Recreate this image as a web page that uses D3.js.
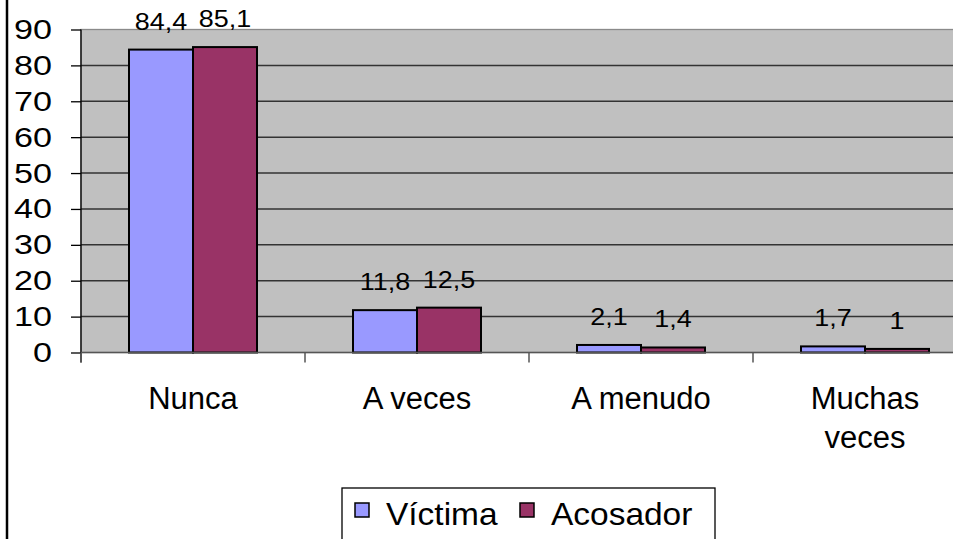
<!DOCTYPE html>
<head>
  <meta charset="utf-8">
  <script src="https://d3js.org/d3.v7.min.js"></script>
  <style>
    body { margin:0; background:#fff; }
    svg { display:block; font-family: Arial, "Liberation Sans", sans-serif; }
  </style>
</head>
<body>
<div id="chart"></div>
<script>
  // data
  var categories = ["Nunca", "A veces", "A menudo", "Muchas veces"];
  var series = ["Víctima", "Acosador"];
  var victima  = [84.4, 11.8, 2.1, 1.7];
  var acosador = [85.1, 12.5, 1.4, 1];
  var labelsVictima  = ["84,4", "11,8", "2,1", "1,7"];
  var labelsAcosador = ["85,1", "12,5", "1,4", "1"];
  var yTicks = [0, 10, 20, 30, 40, 50, 60, 70, 80, 90];
  var colors = ["#9999ff", "#993366"];

  var width = 953, height = 539;
  var plot = {left: 81, top: 29.5, bottom: 352.5, right: 977};

  // the old chart was stretched sideways, so widen text around its anchor
  function stretch(sel, sx) {
    sel.attr("transform", function() {
      var ax = +d3.select(this).attr("x") || 0;
      return "translate(" + ax + ",0) scale(" + sx + ",1) translate(" + (-ax) + ",0)";
    });
  }

  var svg = d3.select("#chart").append("svg")
    .attr("width", width).attr("height", height);

  // outer frame, only left edge shows
  svg.append("line")
    .attr("x1", 7).attr("x2", 7).attr("y1", 0).attr("y2", height)
    .style("stroke", "#000").style("stroke-width", 2.5);

  var x = d3.scaleBand()
    .domain(categories)
    .range([plot.left, plot.right])
    .paddingInner(96 / 224)
    .paddingOuter(48 / 224);

  var x1 = d3.scaleBand()
    .domain(series)
    .range([0, x.bandwidth()]);

  var y = d3.scaleLinear()
    .domain([0, 90])
    .range([plot.bottom, plot.top]);

  // plot background
  svg.append("rect")
    .attr("x", plot.left).attr("y", y(90))
    .attr("width", plot.right - plot.left)
    .attr("height", y(0) - y(90))
    .style("fill", "#c0c0c0")
    .style("stroke", "#8a8a8a")
    .style("stroke-width", 1.3);

  // gridlines
  svg.append("g").selectAll("line")
    .data(yTicks.filter(function(d) { return d > 0 && d < 90; }))
    .enter().append("line")
      .attr("x1", plot.left).attr("x2", plot.right)
      .attr("y1", function(d) { return y(d); })
      .attr("y2", function(d) { return y(d); })
      .style("stroke", "#333")
      .style("stroke-width", 1.5);

  // bars
  var rows = categories.map(function(c, i) {
    return [
      {cat: c, s: series[0], v: victima[i], lab: labelsVictima[i], col: colors[0]},
      {cat: c, s: series[1], v: acosador[i], lab: labelsAcosador[i], col: colors[1]}
    ];
  });

  var groups = svg.append("g").selectAll("g")
    .data(rows)
    .enter().append("g")
      .attr("transform", function(d) { return "translate(" + x(d[0].cat) + ",0)"; });

  groups.selectAll("rect")
    .data(function(d) { return d; })
    .enter().append("rect")
      .attr("x", function(d) { return x1(d.s); })
      .attr("y", function(d) { return y(d.v); })
      .attr("width", x1.bandwidth())
      .attr("height", function(d) { return y(0) - y(d.v); })
      .style("fill", function(d) { return d.col; })
      .style("stroke", "#000")
      .style("stroke-width", 2);

  groups.selectAll("text")
    .data(function(d) { return d; })
    .enter().append("text")
      .attr("x", function(d) { return x1(d.s) + x1.bandwidth() / 2; })
      .attr("y", function(d) { return y(d.v) - 20; })
      .attr("text-anchor", "middle")
      .style("font-size", "23px")
      .text(function(d) { return d.lab; })
      .call(stretch, 1.17);

  // y axis
  var yAxis = d3.axisLeft(y)
    .tickValues(yTicks)
    .tickSize(10)
    .tickPadding(19);

  var gy = svg.append("g")
    .attr("transform", "translate(" + plot.left + ",0)")
    .call(yAxis);
  gy.select(".domain").remove();
  gy.selectAll("line").style("stroke", "#000").style("stroke-width", 1.3);
  gy.selectAll("text")
    .style("font-size", "28px")
    .style("font-family", "Arial, 'Liberation Sans', sans-serif")
    .attr("fill", "#000")
    .call(stretch, 1.22);

  svg.append("line")
    .attr("x1", plot.left).attr("x2", plot.left)
    .attr("y1", y(90)).attr("y2", y(0) + 10)
    .style("stroke", "#000").style("stroke-width", 1.3);

  // x axis line and category ticks
  svg.append("line")
    .attr("x1", plot.left).attr("x2", plot.right)
    .attr("y1", y(0)).attr("y2", y(0))
    .style("stroke", "#555").style("stroke-width", 1.5);

  svg.append("g").selectAll("line")
    .data(categories)
    .enter().append("line")
      .attr("x1", function(d) { return x(d) - x.step() * x.paddingInner() / 2; })
      .attr("x2", function(d) { return x(d) - x.step() * x.paddingInner() / 2; })
      .attr("y1", y(0)).attr("y2", y(0) + 10)
      .style("stroke", "#555").style("stroke-width", 1.5);

  // category labels
  var catText = svg.append("g").selectAll("text")
    .data(categories)
    .enter().append("text")
      .attr("x", function(d) { return x(d) + x.bandwidth() / 2; })
      .attr("y", 409)
      .attr("text-anchor", "middle")
      .style("font-size", "31px");

  catText.each(function(d) {
    var words = d === "Muchas veces" ? ["Muchas", "veces"] : [d];
    var t = d3.select(this);
    words.forEach(function(w, i) {
      t.append("tspan")
        .attr("x", x(d) + x.bandwidth() / 2)
        .attr("dy", i === 0 ? 0 : 39)
        .text(w);
    });
  });

  // legend
  var legend = svg.append("g");
  legend.append("rect")
    .attr("x", 342).attr("y", 488)
    .attr("width", 373).attr("height", 70)
    .style("fill", "#fff")
    .style("stroke", "#000")
    .style("stroke-width", 1.3);

  var legendX = [355, 520];
  series.forEach(function(s, i) {
    legend.append("rect")
      .attr("x", legendX[i]).attr("y", 503)
      .attr("width", 14).attr("height", 14)
      .style("fill", colors[i])
      .style("stroke", "#000")
      .style("stroke-width", 1.5);
    legend.append("text")
      .attr("x", legendX[i] + 31).attr("y", 525)
      .style("font-size", "31px")
      .text(s)
      .call(stretch, 1.08);
  });
</script>
</body>
